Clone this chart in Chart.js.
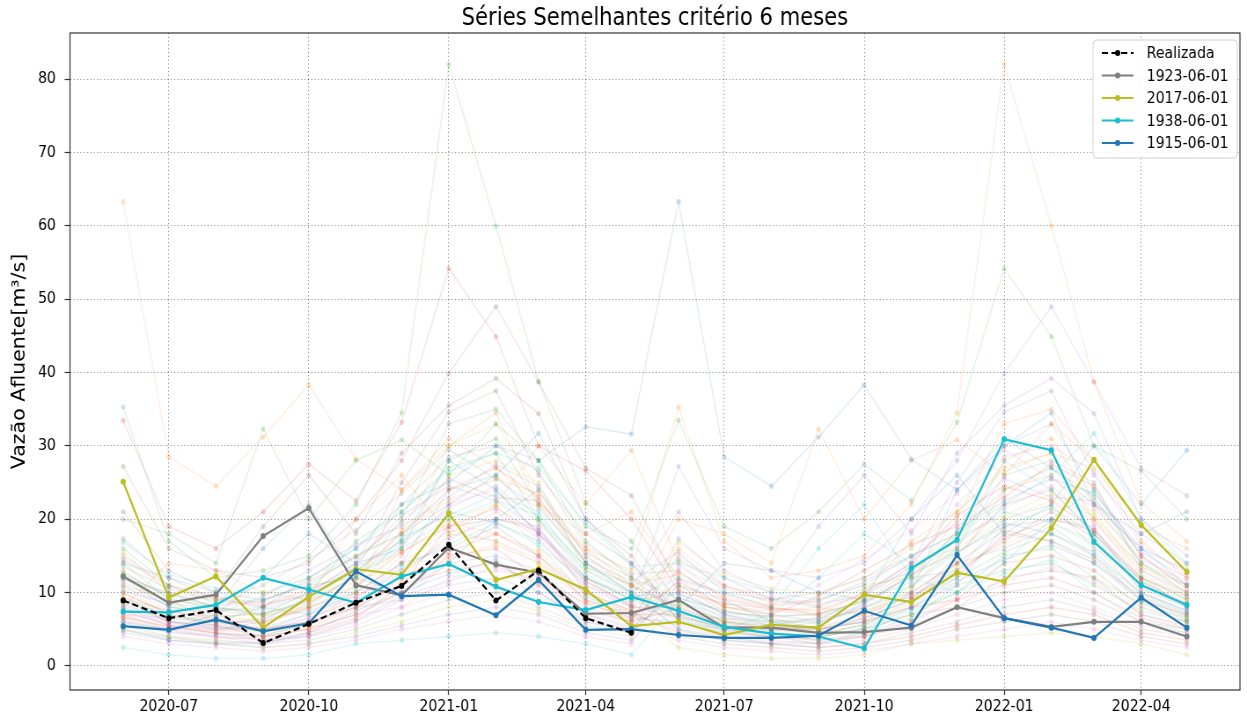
<!DOCTYPE html>
<html>
<head>
<meta charset="utf-8">
<script src="https://cdn.jsdelivr.net/npm/chart.js@4.4.1/dist/chart.umd.min.js"></script>
<style>
  html, body { margin: 0; padding: 0; background: #fff; overflow: hidden; }
</style>
</head>
<body>
<canvas id="grafico" width="1417" height="720" style="display:block;width:1247px;height:720px"></canvas>
<script>
// --- dados ---
const meses = [
  '2020-06', '2020-07', '2020-08', '2020-09', '2020-10', '2020-11', '2020-12',
  '2021-01', '2021-02', '2021-03', '2021-04', '2021-05', '2021-06', '2021-07',
  '2021-08', '2021-09', '2021-10', '2021-11', '2021-12', '2022-01', '2022-02',
  '2022-03', '2022-04', '2022-05'
];
const ticksMeses = ['2020-07', '2020-10', '2021-01', '2021-04', '2021-07', '2021-10', '2022-01', '2022-04'];
const ticksVazao = [0, 10, 20, 30, 40, 50, 60, 70, 80];

const realizada = [8.9, 6.5, 7.6, 3.1, 5.7, 8.6, 10.9, 16.5, 8.9, 13.0, 6.5, 4.5];
const serie1923 = [12.2, 8.6, 9.7, 17.7, 21.5, 11.0, 9.6, 16.1, 13.8, 12.7, 7.1, 7.2,
                   9.0, 5.2, 5.2, 4.5, 4.6, 5.2, 8.0, 6.5, 5.3, 6.0, 6.0, 4.0];
const serie2017 = [25.1, 9.3, 12.2, 5.2, 9.4, 13.2, 12.4, 20.8, 11.7, 13.2, 10.4, 5.4,
                   6.0, 4.2, 5.6, 5.2, 9.7, 8.7, 12.7, 11.5, 18.8, 28.1, 19.2, 12.8];
const serie1938 = [7.4, 7.3, 8.3, 12.0, 10.4, 8.6, 12.2, 13.9, 10.8, 8.7, 7.6, 9.4,
                   7.5, 5.3, 4.4, 4.0, 2.4, 13.3, 17.2, 30.9, 29.4, 16.9, 11.0, 8.3];
const serie1915 = [5.4, 4.9, 6.3, 4.7, 5.8, 12.9, 9.5, 9.7, 6.9, 11.7, 4.9, 5.0,
                   4.2, 3.8, 3.8, 4.1, 7.5, 5.5, 15.1, 6.5, 5.2, 3.8, 9.3, 5.2];

// anos hidrológicos (jun..mai) das séries semelhantes ao fundo
const anosHistoricos = [
  [9.0, 7.0, 6.0, 8.0, 12.0, 16.0, 22.0, 25.0, 30.0, 28.0, 32.6, 31.6],
  [63.3, 28.5, 24.5, 31.2, 38.3, 28.2, 24.0, 31.0, 27.0, 22.0, 16.0, 13.0],
  [35.3, 17.0, 12.0, 13.0, 15.0, 22.0, 34.5, 82.0, 60.0, 38.8, 22.3, 17.0],
  [8.5, 6.0, 5.5, 4.0, 5.0, 7.0, 10.0, 15.0, 16.0, 12.0, 8.5, 6.5],
  [11.5, 8.0, 7.0, 9.5, 13.0, 16.5, 19.0, 23.0, 27.5, 24.5, 15.0, 10.5],
  [21.0, 13.0, 10.0, 19.0, 26.0, 18.0, 29.0, 35.5, 39.2, 34.4, 20.0, 15.0],
  [6.0, 4.5, 4.0, 3.0, 4.0, 5.5, 8.0, 10.0, 11.0, 9.0, 6.0, 5.0],
  [15.0, 11.0, 9.5, 8.5, 9.5, 13.5, 22.0, 28.5, 30.0, 26.5, 16.5, 12.5],
  [13.0, 8.5, 7.0, 6.0, 8.0, 11.0, 16.0, 26.0, 28.0, 25.0, 13.0, 9.5],
  [8.2, 6.2, 5.2, 4.8, 7.2, 10.5, 17.5, 20.5, 23.5, 21.0, 12.5, 9.0],
  [12.0, 10.0, 8.0, 16.0, 22.0, 12.0, 10.0, 14.0, 20.0, 24.0, 14.0, 10.0],
  [6.8, 5.2, 4.8, 5.5, 8.5, 12.5, 15.5, 19.5, 18.0, 15.5, 10.0, 7.5],
  [20.0, 18.0, 14.0, 32.3, 20.0, 28.0, 30.8, 26.0, 33.0, 28.0, 19.0, 16.0],
  [33.5, 19.0, 16.0, 21.0, 27.5, 22.5, 33.2, 54.2, 44.9, 30.0, 26.6, 20.0],
  [10.2, 8.5, 7.8, 7.5, 9.8, 14.0, 20.5, 24.5, 22.5, 18.5, 12.0, 9.5],
  [10.0, 7.0, 5.5, 5.0, 6.0, 8.0, 11.0, 19.0, 20.0, 19.0, 10.0, 7.5],
  [4.0, 3.0, 2.5, 2.0, 2.5, 3.5, 5.0, 6.0, 7.0, 6.0, 4.0, 3.0],
  [13.5, 10.5, 8.8, 11.0, 14.5, 18.5, 23.5, 29.5, 25.5, 21.5, 14.5, 11.5],
  [15.5, 10.0, 9.0, 10.0, 12.0, 15.0, 18.0, 30.0, 33.0, 24.0, 15.0, 11.0],
  [5.8, 4.6, 4.2, 4.0, 5.8, 8.5, 13.5, 16.5, 19.5, 16.5, 9.5, 6.5],
  [6.0, 5.0, 7.0, 12.0, 18.0, 14.0, 16.0, 28.0, 24.0, 18.0, 12.0, 9.0],
  [9.8, 7.2, 6.8, 7.0, 8.8, 11.5, 18.5, 22.5, 25.5, 23.5, 16.0, 11.0],
  [12.5, 9.5, 8.0, 7.0, 10.0, 17.0, 21.0, 27.0, 29.0, 20.0, 13.5, 11.0],
  [7.5, 5.5, 4.5, 3.5, 4.5, 6.5, 11.0, 13.0, 14.0, 11.0, 7.5, 6.0],
  [7.8, 6.0, 5.2, 5.2, 7.0, 9.5, 12.5, 17.5, 20.0, 18.5, 11.5, 8.5],
  [27.2, 16.0, 13.0, 12.0, 14.0, 20.0, 28.0, 39.9, 49.0, 38.7, 27.0, 23.2],
  [11.0, 7.5, 6.5, 5.0, 6.5, 9.0, 15.0, 22.0, 24.0, 18.0, 11.0, 8.5],
  [12.8, 9.2, 7.6, 6.8, 8.2, 12.5, 16.5, 21.5, 24.5, 19.5, 13.0, 10.0],
  [5.0, 4.0, 3.0, 2.5, 3.0, 4.5, 6.0, 8.0, 9.0, 7.5, 5.0, 4.0],
  [16.8, 12.5, 10.5, 9.8, 12.0, 16.0, 21.0, 26.5, 29.0, 27.0, 19.5, 13.5],
  [14.0, 12.0, 10.0, 9.0, 11.0, 15.0, 18.0, 22.0, 26.0, 31.7, 20.0, 14.0],
  [6.2, 4.8, 3.8, 3.8, 5.2, 7.8, 11.5, 14.5, 16.5, 14.0, 8.8, 6.2],
  [16.0, 11.0, 8.5, 9.0, 11.0, 12.0, 20.0, 33.0, 35.0, 28.0, 17.0, 12.0],
  [9.2, 7.5, 6.2, 5.8, 7.8, 10.8, 15.5, 19.0, 21.5, 18.0, 11.5, 8.2],
  [6.5, 5.0, 4.0, 3.5, 4.0, 6.0, 9.0, 11.0, 12.0, 10.0, 6.5, 5.0],
  [11.8, 9.8, 8.2, 8.8, 11.5, 14.8, 19.5, 25.5, 23.0, 22.5, 15.5, 12.0],
  [7.0, 6.5, 5.5, 6.5, 7.5, 9.5, 13.0, 17.0, 21.0, 17.5, 10.5, 8.0],
  [4.8, 3.8, 3.2, 3.2, 4.2, 6.2, 9.5, 11.5, 13.5, 11.5, 7.0, 5.2],
  [9.5, 6.5, 6.0, 4.5, 5.5, 9.0, 12.0, 18.0, 17.0, 14.0, 9.5, 7.0],
  [2.5, 1.5, 1.0, 1.0, 1.5, 3.0, 3.5, 4.0, 4.5, 4.0, 3.0, 1.5],
  [8.8, 6.8, 5.8, 6.2, 9.5, 13.5, 17.0, 21.0, 19.5, 17.0, 11.0, 8.0],
  [8.0, 14.0, 13.0, 10.0, 9.0, 20.0, 26.0, 18.0, 22.0, 30.0, 22.0, 29.4],
  [14.0, 9.0, 8.0, 7.0, 9.0, 13.0, 17.0, 28.0, 31.0, 22.0, 14.0, 10.0],
  [14.5, 10.8, 9.2, 8.2, 10.5, 12.8, 18.0, 24.0, 27.0, 23.0, 14.0, 11.0],
  [8.0, 5.5, 5.0, 5.0, 6.0, 8.0, 9.0, 14.0, 15.0, 13.0, 8.0, 6.0],
  [17.3, 12.0, 9.0, 8.0, 10.0, 14.0, 25.0, 34.6, 37.5, 26.0, 18.0, 14.0],
  [7.2, 5.8, 4.8, 4.6, 6.5, 9.0, 14.0, 18.5, 17.0, 14.5, 9.0, 6.8],
  [5.5, 4.0, 3.5, 3.0, 3.5, 5.0, 7.0, 9.0, 10.0, 8.0, 5.5, 4.5],
  [10.5, 7.0, 6.0, 6.5, 9.0, 12.0, 13.0, 20.0, 22.0, 16.0, 12.0, 8.0],
  [10.8, 8.2, 6.6, 7.2, 8.6, 12.2, 16.0, 20.0, 22.5, 20.5, 13.5, 9.8],
  [5.0, 3.5, 3.0, 3.0, 4.5, 7.5, 10.0, 12.5, 14.5, 10.0, 6.0, 4.5],
  [11.0, 9.0, 6.0, 5.0, 6.0, 10.0, 24.0, 30.0, 34.5, 22.0, 18.0, 21.0],
  [12.0, 8.0, 7.5, 8.0, 7.0, 10.0, 14.0, 24.0, 26.0, 20.0, 12.0, 9.0],
  [6.6, 5.4, 4.4, 4.2, 5.6, 8.0, 12.0, 15.5, 18.0, 15.0, 9.8, 7.2],
  [4.5, 3.5, 3.0, 2.5, 3.0, 4.0, 5.5, 7.0, 8.0, 7.0, 4.5, 3.5],
  [9.0, 6.0, 5.0, 6.0, 8.0, 10.0, 14.0, 16.0, 19.0, 15.0, 9.0, 7.0],
  [7.0, 5.0, 4.5, 4.0, 5.0, 7.0, 8.0, 12.0, 13.0, 12.0, 7.0, 5.5],
  [3.5, 2.5, 2.0, 1.5, 2.0, 3.0, 4.0, 5.0, 6.0, 5.0, 3.5, 2.5]
];

const coresTab10 = ['31,119,180', '255,127,14', '44,160,44', '214,39,40', '148,103,189',
                    '140,86,75', '227,119,194', '127,127,127', '188,189,34', '23,190,207'];
const fonte = '"DejaVu Sans", sans-serif';

// posição de cada mês em dias a partir de 2020-06-01
const inicio = Date.UTC(2020, 5, 1);
function diaDe(mes) {
    const [a, m] = mes.split('-').map(Number);
    return (Date.UTC(a, m - 1, 1) - inicio) / 86400000;
}
const xs = meses.map(diaDe);
function pontos(valores) {
    return valores.map((v, i) => ({ x: xs[i], y: v }));
}
const margemX = (xs[xs.length - 1] - xs[0]) * 0.05;

function destaque(label, valores, cor, tracejado) {
    return {
        label: label,
        data: pontos(valores),
        borderColor: cor,
        backgroundColor: cor,
        pointBackgroundColor: cor,
        pointBorderColor: cor,
        borderWidth: 2.2,
        borderDash: tracejado ? [7, 4] : [],
        pointRadius: 3,
        pointBorderWidth: 0,
        tension: 0,
        emLegenda: true
    };
}

const datasets = [
    destaque('Realizada', realizada, '#000000', true),
    destaque('1915-06-01', serie1915, '#1f77b4', false),
    destaque('1938-06-01', serie1938, '#17becf', false),
    destaque('2017-06-01', serie2017, '#bcbd22', false),
    destaque('1923-06-01', serie1923, '#7f7f7f', false)
];

// séries semelhantes ao fundo (dois anos hidrológicos consecutivos)
for (let i = 0; i < anosHistoricos.length - 1; i++) {
    const c = coresTab10[i % 10];
    datasets.push({
        label: 'hist' + i,
        data: pontos(anosHistoricos[i].concat(anosHistoricos[i + 1])),
        borderColor: `rgba(${c},0.13)`,
        pointBackgroundColor: `rgba(${c},0.22)`,
        pointBorderWidth: 0,
        pointRadius: 2.6,
        borderWidth: 1.5,
        tension: 0
    });
}

// ordem da legenda como no original
const ordemLegenda = ['Realizada', '1923-06-01', '2017-06-01', '1938-06-01', '1915-06-01'];

// moldura completa do gráfico
const moldura = {
    id: 'moldura',
    afterDatasetsDraw(chart) {
        const a = chart.chartArea;
        const ctx = chart.ctx;
        ctx.save();
        ctx.strokeStyle = '#333';
        ctx.lineWidth = 1.2;
        ctx.strokeRect(a.left, a.top, a.right - a.left, a.bottom - a.top);
        ctx.restore();
    }
};

// legenda dentro da área, canto superior direito
const legenda = {
    id: 'legenda',
    afterDraw(chart) {
        const ctx = chart.ctx;
        const a = chart.chartArea;
        const w = 164, h = 118;
        const x0 = a.right - w - 3, y0 = a.top + 7;
        ctx.save();
        ctx.fillStyle = 'rgba(255,255,255,0.85)';
        ctx.strokeStyle = '#d0d0d0';
        ctx.lineWidth = 1;
        ctx.beginPath();
        ctx.roundRect(x0, y0, w, h, 4);
        ctx.fill();
        ctx.stroke();
        ctx.font = '16px ' + fonte;
        ctx.textBaseline = 'middle';
        ordemLegenda.forEach((nome, i) => {
            const d = chart.data.datasets.find(ds => ds.label === nome);
            const y = y0 + 13 + i * 22.5;
            ctx.strokeStyle = d.borderColor;
            ctx.lineWidth = d.borderWidth;
            ctx.setLineDash(d.borderDash);
            ctx.beginPath();
            ctx.moveTo(x0 + 10, y);
            ctx.lineTo(x0 + 46, y);
            ctx.stroke();
            ctx.setLineDash([]);
            ctx.fillStyle = d.pointBackgroundColor;
            ctx.beginPath();
            ctx.arc(x0 + 28, y, 3, 0, Math.PI * 2);
            ctx.fill();
            ctx.fillStyle = '#000';
            ctx.fillText(nome, x0 + 61, y + 1);
        });
        ctx.restore();
    }
};

const grade = {
    color: 'rgba(0,0,0,0.45)',
    lineWidth: 1,
    tickLength: 5,
    tickColor: '#333',
    tickWidth: 1.2
};

new Chart(document.getElementById('grafico'), {
    type: 'line',
    data: { datasets: datasets },
    options: {
        responsive: false,
        devicePixelRatio: 1,
        animation: false,
        events: [],
        layout: { padding: { top: 0, right: 8, bottom: 0, left: 0 } },
        plugins: {
            legend: { display: false },
            tooltip: { enabled: false },
            title: {
                display: true,
                fullSize: false,
                text: 'Séries Semelhantes critério 6 meses',
                color: '#000',
                font: { family: fonte, size: 24, weight: 'normal' },
                padding: { top: 4.5, bottom: -0.3 }
            }
        },
        scales: {
            x: {
                type: 'linear',
                min: xs[0] - margemX,
                max: xs[xs.length - 1] + margemX,
                grid: grade,
                border: { display: false, dash: [1.2, 2.6] },
                afterBuildTicks: s => { s.ticks = ticksMeses.map(m => ({ value: diaDe(m) })); },
                afterFit: s => { s.height = 30; },
                ticks: {
                    autoSkip: false,
                    maxRotation: 0,
                    padding: 2,
                    color: '#000',
                    font: { family: fonte, size: 16 },
                    callback: (v, i) => ticksMeses[i]
                }
            },
            y: {
                min: -3.3,
                max: 86.3,
                grid: { ...grade, tickLength: 6 },
                border: { display: false, dash: [1.2, 2.6] },
                afterBuildTicks: s => { s.ticks = ticksVazao.map(v => ({ value: v })); },
                afterFit: s => { s.width = 79.5; },
                ticks: {
                    padding: 10,
                    color: '#000',
                    font: { family: fonte, size: 16 }
                },
                title: {
                    display: true,
                    text: 'Vazão Afluente[m³/s]',
                    color: '#000',
                    font: { family: fonte, size: 20.5 },
                    padding: { top: 10.5, bottom: 0 }
                }
            }
        }
    },
    plugins: [moldura, legenda]
});
</script>
</body>
</html>
